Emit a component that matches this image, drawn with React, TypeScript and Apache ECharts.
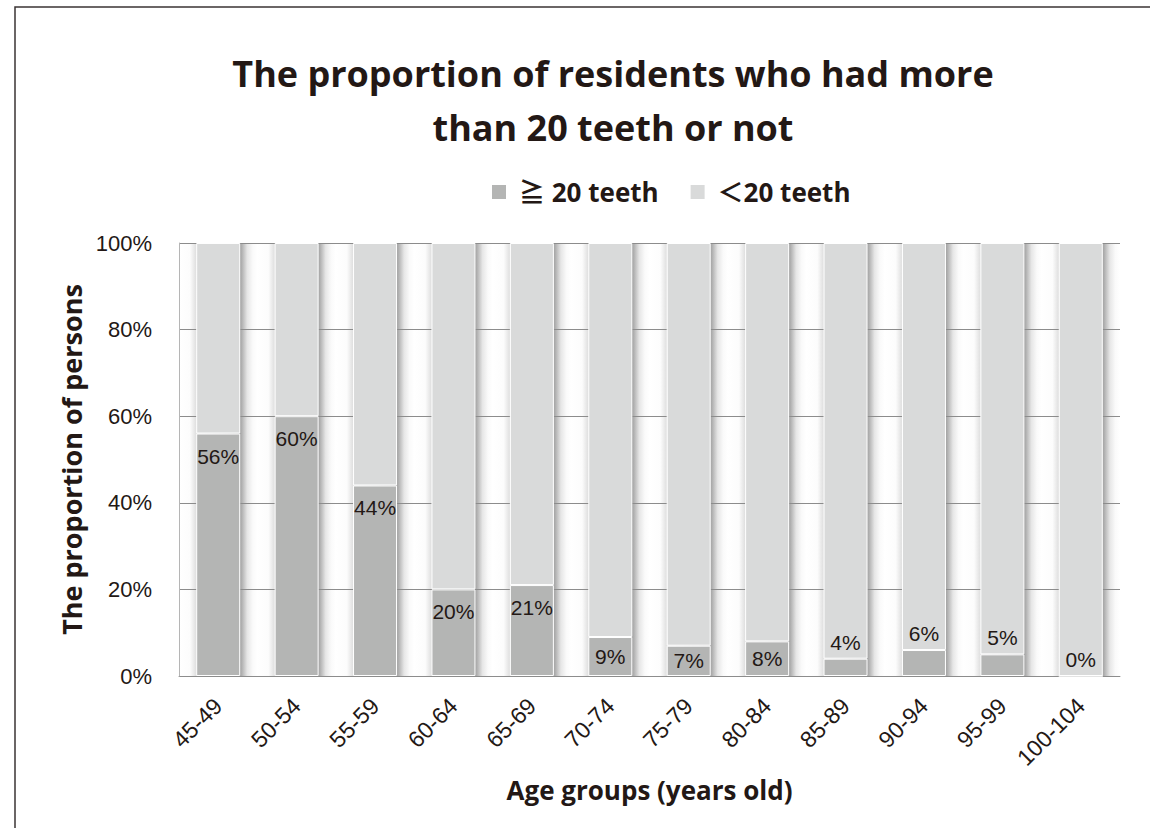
import React, { useEffect, useRef } from "react";
import * as echarts from "echarts";

// Age bands on the horizontal axis
const ageGroups = [
  "45-49", "50-54", "55-59", "60-64", "65-69", "70-74",
  "75-79", "80-84", "85-89", "90-94", "95-99", "100-104",
];

// Share of residents (%) who kept 20 or more teeth
const atLeast20 = [56, 60, 44, 20, 21, 9, 7, 8, 4, 6, 5, 0];

// Remaining share (%) with fewer than 20 teeth
const under20 = atLeast20.map((v) => 100 - v);

const yTicks = [0, 20, 40, 60, 80, 100];

const seriesNames = ["≧ 20 teeth", "＜20 teeth"];

const TEXT = "#231815";
const FONT = "'Open Sans', 'Noto Sans', 'Noto Sans CJK JP', sans-serif";
const LABEL_FONT = "'Liberation Sans', 'Noto Sans', sans-serif";

export default function App() {
  const ref = useRef<HTMLDivElement>(null);

  useEffect(() => {
    if (!ref.current) return;
    const chart = echarts.init(ref.current, undefined, { renderer: "svg" });

    // Shaded gaps between the columns, one gradient per category band
    const bandShade = new echarts.graphic.LinearGradient(0, 0, 1, 0, [
      { offset: 0, color: "#ffffff" },
      { offset: 0.14, color: "#fcfcfc" },
      { offset: 0.21, color: "#e2e2e2" },
      { offset: 0.78, color: "#a4a4a4" },
      { offset: 0.8, color: "#b0b0b0" },
      { offset: 0.87, color: "#e6e6e6" },
      { offset: 0.94, color: "#fafafa" },
      { offset: 1, color: "#ffffff" },
    ]);

    const labelFor = (v: number) => {
      if (v >= 15) {
        return { show: true, position: "insideTop", distance: 12 };
      }
      if (v >= 7) {
        return { show: true, position: "inside" };
      }
      return { show: true, position: "top", distance: 6 };
    };

    chart.setOption({
      animation: false,
      backgroundColor: "#ffffff",
      title: {
        text: "The proportion of residents who had more\nthan 20 teeth or not",
        left: 608,
        top: 41,
        textAlign: "center",
        textStyle: {
          fontFamily: FONT,
          fontWeight: "bold",
          fontSize: 36,
          lineHeight: 54,
          color: TEXT,
        },
      },
      legend: {
        left: 487,
        top: 174,
        itemWidth: 14,
        itemHeight: 14,
        itemGap: 32,
        icon: "rect",
        itemStyle: { borderWidth: 0 },
        data: seriesNames,
        textStyle: {
          fontFamily: FONT,
          fontWeight: "bold",
          fontSize: 26,
          color: TEXT,
          padding: [0, 0, 0, 8],
        },
      },
      graphic: [
        {
          type: "polyline",
          shape: { points: [[15, 830], [15, 7], [1152, 7]] },
          style: { stroke: "#3b3434", lineWidth: 1.5, fill: "none" },
          silent: true,
        },
      ],
      grid: { left: 179, top: 243, right: 30, bottom: 152, containLabel: false },
      xAxis: {
        type: "category",
        data: ageGroups,
        z: 0,
        name: "Age groups (years old)",
        nameLocation: "middle",
        nameGap: 94,
        nameTextStyle: {
          fontFamily: FONT,
          fontWeight: "bold",
          fontSize: 26,
          color: TEXT,
        },
        axisLine: { show: true, lineStyle: { color: "#9a9a9a", width: 1 } },
        axisTick: { show: false },
        axisLabel: {
          rotate: 45,
          margin: 26,
          interval: 0,
          fontFamily: LABEL_FONT,
          fontSize: 23,
          color: TEXT,
        },
        splitLine: { show: false },
        splitArea: { show: true, areaStyle: { color: [bandShade] } },
      },
      yAxis: {
        type: "value",
        min: 0,
        max: 100,
        interval: 20,
        z: 1,
        name: "The proportion of persons",
        nameLocation: "middle",
        nameGap: 91,
        nameTextStyle: {
          fontFamily: FONT,
          fontWeight: "bold",
          fontSize: 27,
          color: TEXT,
        },
        axisLine: { show: true, lineStyle: { color: "#b5b5b5", width: 1 } },
        axisTick: { show: false },
        axisLabel: {
          margin: 27,
          fontFamily: LABEL_FONT,
          fontSize: 22,
          color: TEXT,
          formatter: (v: number) => (yTicks.includes(v) ? `${v}%` : ""),
        },
        splitLine: { show: true, lineStyle: { color: "#8c8c8c", width: 1 } },
      },
      series: [
        {
          name: seriesNames[0],
          type: "bar",
          stack: "share",
          barWidth: 44,
          itemStyle: { color: "#b4b5b4", borderColor: "#ffffff", borderWidth: 1 },
          label: {
            fontFamily: LABEL_FONT,
            fontSize: 21,
            color: TEXT,
            formatter: "{c}%",
          },
          data: atLeast20.map((v) => ({ value: v, label: labelFor(v) })),
        },
        {
          name: seriesNames[1],
          type: "bar",
          stack: "share",
          barWidth: 44,
          itemStyle: { color: "#d9dada", borderColor: "#ffffff", borderWidth: 1 },
          label: { show: false },
          data: under20,
        },
      ],
    });

    return () => chart.dispose();
  }, []);

  return (
    <div
      ref={ref}
      style={{ position: "fixed", left: 0, top: 0, width: 1150, height: 828 }}
    />
  );
}
